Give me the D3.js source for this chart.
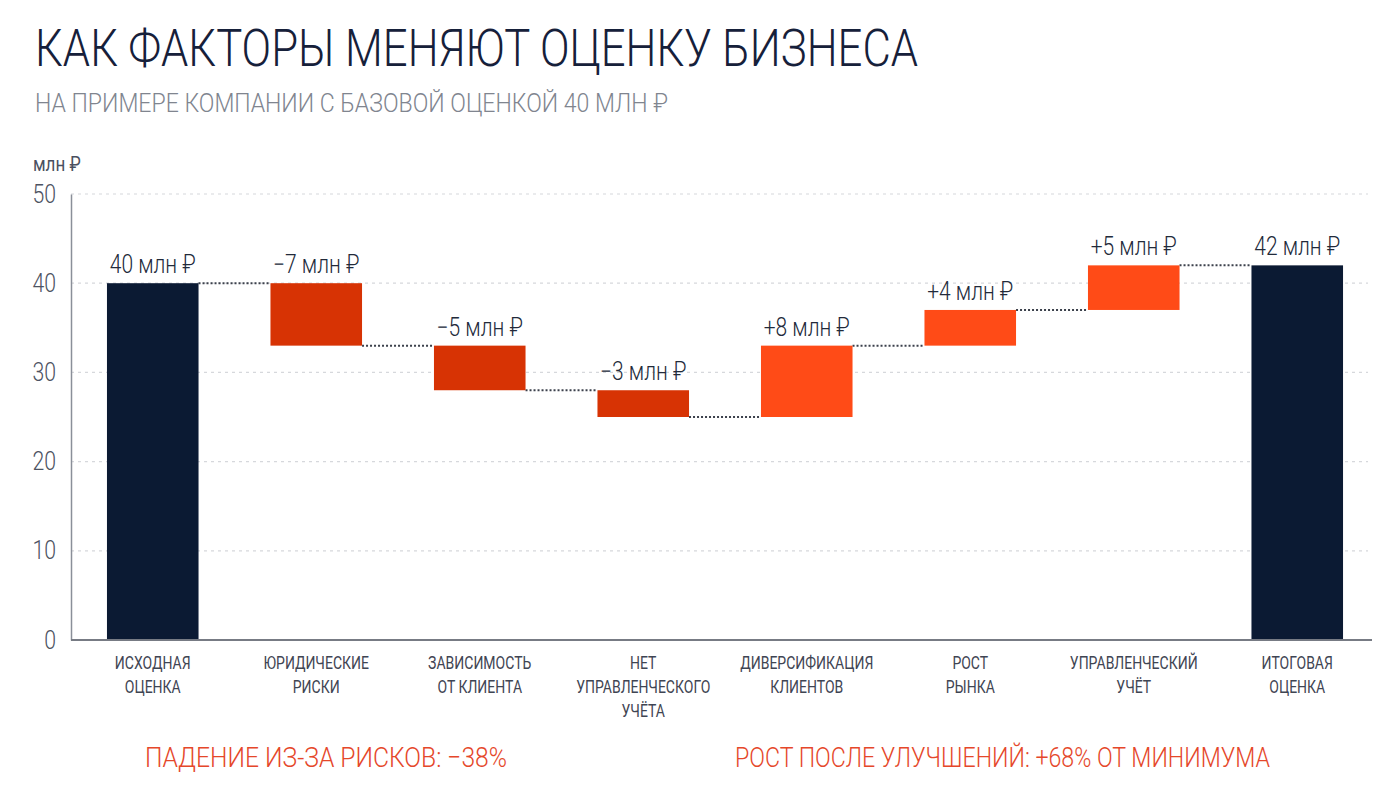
<!DOCTYPE html>
<html lang="ru">
<head>
<meta charset="utf-8">
<script src="https://cdn.jsdelivr.net/npm/d3@7"></script>
<style>
  html, body { margin: 0; padding: 0; background: #ffffff; }
  svg { display: block; }
  text { font-family: Roboto, "Noto Sans", sans-serif; }
</style>
</head>
<body>
<svg id="chart" width="1400" height="788"></svg>
<script>
// data
var categories = [
    ["ИСХОДНАЯ", "ОЦЕНКА"],
    ["ЮРИДИЧЕСКИЕ", "РИСКИ"],
    ["ЗАВИСИМОСТЬ", "ОТ КЛИЕНТА"],
    ["НЕТ", "УПРАВЛЕНЧЕСКОГО", "УЧЁТА"],
    ["ДИВЕРСИФИКАЦИЯ", "КЛИЕНТОВ"],
    ["РОСТ", "РЫНКА"],
    ["УПРАВЛЕНЧЕСКИЙ", "УЧЁТ"],
    ["ИТОГОВАЯ", "ОЦЕНКА"]
];
var kinds = ["total", "neg", "neg", "neg", "pos", "pos", "pos", "total"];
var values = [40, -7, -5, -3, 8, 4, 5, 42];
var yTicks = [0, 10, 20, 30, 40, 50];

var title = "КАК ФАКТОРЫ МЕНЯЮТ ОЦЕНКУ БИЗНЕСА";
var subtitle = "НА ПРИМЕРЕ КОМПАНИИ С БАЗОВОЙ ОЦЕНКОЙ 40 МЛН ₽";
var unitLabel = "млн ₽";
var notes = ["ПАДЕНИЕ ИЗ-ЗА РИСКОВ: −38%", "РОСТ ПОСЛЕ УЛУЧШЕНИЙ: +68% ОТ МИНИМУМА"];

var colors = { total: "#0b1a33", neg: "#d73304", pos: "#ff4b17" };

// squeeze text horizontally, the reference uses a condensed face
function condense(sel, k) {
    sel.each(function () {
        var len = this.getComputedTextLength();
        d3.select(this)
            .attr("textLength", len * k)
            .attr("lengthAdjust", "spacingAndGlyphs");
    });
}

// running totals for the waterfall
var running = 0;
var bars = values.map(function (v, i) {
    var b = { i: i, kind: kinds[i], value: v };
    if (kinds[i] === "total") {
        b.start = 0;
        b.end = v;
    } else {
        b.start = running;
        b.end = running + v;
    }
    running = b.end;
    b.label = kinds[i] === "total" ? v + " млн ₽" : (v < 0 ? "−" + Math.abs(v) : "+" + v) + " млн ₽";
    return b;
});

var svg = d3.select("#chart");
svg.append("rect").attr("width", 1400).attr("height", 788).attr("fill", "#ffffff");

var x = d3.scaleBand()
    .domain(d3.range(categories.length))
    .range([71, 1379])
    .paddingInner(0.44)
    .paddingOuter(0.22);

var y = d3.scaleLinear()
    .domain([0, 50])
    .range([640, 194]);

// titles
svg.append("text")
    .attr("x", 35).attr("y", 66)
    .attr("font-family", "Lato, 'Open Sans', sans-serif")
    .attr("font-weight", 300)
    .attr("font-size", 52)
    .attr("fill", "#16203a")
    .attr("textLength", 883)
    .attr("lengthAdjust", "spacingAndGlyphs")
    .text(title);

svg.append("text")
    .attr("x", 35).attr("y", 112)
    .attr("font-family", "Lato, 'Open Sans', sans-serif")
    .attr("font-weight", 300)
    .attr("font-size", 26)
    .attr("fill", "#80858f")
    .attr("textLength", 633)
    .attr("lengthAdjust", "spacingAndGlyphs")
    .text(subtitle);

svg.append("text")
    .attr("x", 33).attr("y", 171)
    .attr("font-size", 20)
    .attr("fill", "#4a5060")
    .text(unitLabel)
    .call(condense, 0.85);

// grid
svg.append("g")
    .selectAll("line")
    .data(yTicks.filter(function (d) { return d > 0; }))
    .enter().append("line")
    .attr("x1", 71).attr("x2", 1368)
    .attr("y1", function (d) { return y(d); })
    .attr("y2", function (d) { return y(d); })
    .attr("stroke", "#d6d8dc")
    .attr("stroke-width", 1.2)
    .attr("stroke-dasharray", "3,4");

// y axis
var yAxis = d3.axisLeft(y).tickValues(yTicks).tickSize(0).tickPadding(15);
var gy = svg.append("g").attr("transform", "translate(71,0)").call(yAxis);
gy.select(".domain").attr("stroke", "#8a8f99").attr("stroke-width", 1.5);
gy.selectAll("text")
    .attr("font-family", "Roboto, sans-serif")
    .attr("font-weight", 300)
    .attr("font-size", 25)
    .attr("fill", "#4d5362")
    .call(condense, 0.85);

// connectors
svg.append("g")
    .selectAll("line")
    .data(bars.slice(0, -1))
    .enter().append("line")
    .attr("x1", function (d) { return x(d.i) + x.bandwidth(); })
    .attr("x2", function (d) { return x(d.i + 1); })
    .attr("y1", function (d) { return y(d.end); })
    .attr("y2", function (d) { return y(d.end); })
    .attr("stroke", "#3c414c")
    .attr("stroke-width", 2)
    .attr("stroke-dasharray", "2,2");

// bars
svg.append("g")
    .selectAll("rect")
    .data(bars)
    .enter().append("rect")
    .attr("x", function (d) { return x(d.i); })
    .attr("width", x.bandwidth())
    .attr("y", function (d) { return y(Math.max(d.start, d.end)); })
    .attr("height", function (d) { return Math.abs(y(d.start) - y(d.end)); })
    .attr("fill", function (d) { return colors[d.kind]; });

// value labels
svg.append("g")
    .selectAll("text")
    .data(bars)
    .enter().append("text")
    .attr("x", function (d) { return x(d.i) + x.bandwidth() / 2; })
    .attr("y", function (d) { return y(Math.max(d.start, d.end)) - 10; })
    .attr("text-anchor", "middle")
    .attr("font-size", 25)
    .attr("font-weight", 300)
    .attr("fill", "#222a3a")
    .text(function (d) { return d.label; })
    .call(condense, 0.84);

// x axis
svg.append("line")
    .attr("x1", 71).attr("x2", 1372)
    .attr("y1", y(0)).attr("y2", y(0))
    .attr("stroke", "#777b84")
    .attr("stroke-width", 2);

// category labels
var cat = svg.append("g")
    .selectAll("text")
    .data(categories)
    .enter().append("text")
    .attr("text-anchor", "middle")
    .attr("font-size", 17.5)
    .attr("fill", "#3f4553");
cat.selectAll("tspan")
    .data(function (lines, i) { return lines.map(function (l) { return { t: l, i: i }; }); })
    .enter().append("tspan")
    .attr("x", function (d) { return x(d.i) + x.bandwidth() / 2; })
    .attr("y", function (d, j) { return 669 + j * 24; })
    .text(function (d) { return d.t; })
    .call(condense, 0.8);

// bottom notes
svg.append("text")
    .attr("x", 145).attr("y", 767)
    .attr("font-family", "Lato, 'Open Sans', sans-serif")
    .attr("font-weight", 300)
    .attr("font-size", 28)
    .attr("fill", "#e5472a")
    .attr("textLength", 362)
    .attr("lengthAdjust", "spacingAndGlyphs")
    .text(notes[0]);

svg.append("text")
    .attr("x", 735).attr("y", 767)
    .attr("font-family", "Lato, 'Open Sans', sans-serif")
    .attr("font-weight", 300)
    .attr("font-size", 28)
    .attr("fill", "#e5472a")
    .attr("textLength", 535)
    .attr("lengthAdjust", "spacingAndGlyphs")
    .text(notes[1]);
</script>
</body>
</html>
